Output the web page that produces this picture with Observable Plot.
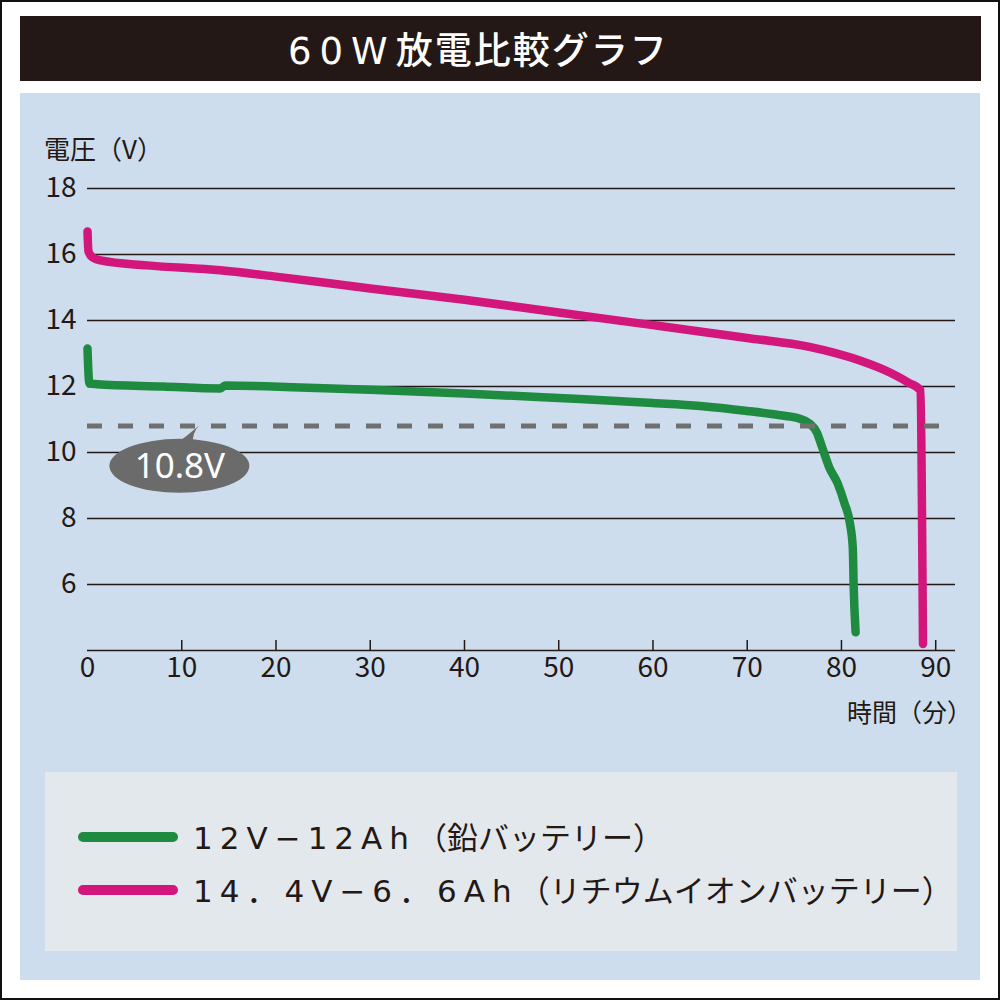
<!DOCTYPE html>
<html>
<head>
<meta charset="utf-8">
<script src="https://cdn.jsdelivr.net/npm/d3@7"></script>
<script src="https://cdn.jsdelivr.net/npm/@observablehq/plot@0.6"></script>
<style>
  html, body { margin: 0; padding: 0; background: #fff; }
  #root { position: relative; width: 1000px; height: 1000px; overflow: hidden; background: #fff;
          font-family: "Noto Sans CJK JP", "Noto Sans", sans-serif; color: #231815; }
  .abs { position: absolute; }
  #border { left: 0; top: 0; width: 1000px; height: 1000px; box-sizing: border-box; border: 2px solid #111; pointer-events: none; z-index: 10; }
  #titlebar { left: 20px; top: 16px; width: 961px; height: 65px; background: #231815; }
  #title { left: 288px; top: 16px; height: 65px; line-height: 65px; white-space: nowrap;
           color: #fff; font-size: 37px; letter-spacing: 2px; font-weight: 500; }
  #title .lat { letter-spacing: 8px; font-family: "DejaVu Sans", "Noto Sans", sans-serif; font-weight: 400; }
  #panel { left: 20px; top: 93px; width: 960px; height: 887px; background: #cddded; }
  #legendbox { left: 45px; top: 772px; width: 912px; height: 179px; background: #e3e8ed; }
  .swatch { left: 78px; width: 100px; height: 10px; border-radius: 5px; }
  .legtext { left: 193px; font-size: 31px; line-height: 32px; height: 32px; white-space: nowrap; color: #231815; }
  .legtext .lat { letter-spacing: 7px; font-family: "DejaVu Sans", "Noto Sans CJK JP", sans-serif; }
  #ylabel { left: 44px; top: 133px; font-size: 26px; line-height: 30px; white-space: nowrap; }
  #xlabel { right: 28px; top: 696px; font-size: 25px; line-height: 30px; white-space: nowrap; }
  #chart { left: 0; top: 0; }
</style>
</head>
<body>
<div id="root">
  <div id="panel" class="abs"></div>
  <div id="titlebar" class="abs"></div>
  <div id="title" class="abs"></div>
  <div id="legendbox" class="abs"></div>
  <div id="chart" class="abs"></div>
  <div id="ylabel" class="abs"></div>
  <div id="xlabel" class="abs"></div>
  <div id="legend"></div>
  <div id="border" class="abs"></div>
</div>
<script>
// ---- data ----
const titleLatin = "60W";
const titleRest = "放電比較グラフ";
const yAxisTitle = "電圧（V）";
const xAxisTitle = "時間（分）";

// 12V-12Ah lead battery: minutes / volts
const leadTime = [0, 0.2, 1, 8, 14.1, 14.6, 22.6, 30, 40, 50, 60, 65, 70, 73, 75.5, 76.6, 77.4, 77.9, 78.7, 79.6, 80.3, 80.9, 81.2, 81.3, 81.5];
const leadVolt = [13.15, 12.09, 12.07, 12.0, 11.94, 12.03, 11.97, 11.9, 11.79, 11.65, 11.5, 11.41, 11.26, 11.15, 11.03, 10.88, 10.6, 10.2, 9.55, 9.06, 8.48, 7.85, 7.12, 5.9, 4.55];

// 14.4V-6.6Ah lithium-ion battery: minutes / volts
const liTime = [0, 0.1, 0.5, 1.4, 6.3, 14.1, 20, 30, 40, 50, 60, 70, 76.6, 81.8, 85.3, 87.1, 88.4, 88.55, 88.65];
const liVolt = [16.7, 16.1, 15.92, 15.82, 15.67, 15.52, 15.33, 14.97, 14.63, 14.24, 13.86, 13.47, 13.2, 12.8, 12.4, 12.12, 11.88, 8.0, 4.2];

const seriesNames = ["12V−12Ah（鉛バッテリー）", "14.4V−6.6Ah（リチウムイオンバッテリー）"];
const seriesColors = ["#1f8b40", "#d3167b"];

const yTicks = [6, 8, 10, 12, 14, 16, 18];
const gridLevels = [4, 6, 8, 10, 12, 14, 16, 18];
const xTicks = [0, 10, 20, 30, 40, 50, 60, 70, 80, 90];
const xTickMarks = [10, 20, 30, 40, 50, 60, 70, 80, 90];
const cutoffVolt = [10.8];
const calloutX = [9.8];
const calloutY = [9.58];
const calloutTipX = [11.9];
const calloutText = ["10.8V"];

// ---- build ----
const titleEl = document.getElementById("title");
const tl = document.createElement("span"); tl.className = "lat"; tl.textContent = titleLatin;
const tr = document.createElement("span"); tr.textContent = titleRest;
titleEl.appendChild(tl); titleEl.appendChild(tr);
document.getElementById("ylabel").textContent = yAxisTitle;
document.getElementById("xlabel").textContent = xAxisTitle;

const lead = leadTime.map((t, i) => ({t, v: leadVolt[i]}));
const li = liTime.map((t, i) => ({t, v: liVolt[i]}));
const callout = calloutX.map((x, i) => ({x, y: calloutY[i], label: calloutText[i]}));

const plot = Plot.plot({
  width: 1000,
  height: 700,
  marginTop: 188,
  marginBottom: 50,
  marginLeft: 87,
  marginRight: 45,
  x: {domain: [0, 92.1]},
  y: {domain: [4, 18]},
  style: {background: "transparent", overflow: "visible", color: "#231815",
          fontFamily: "'Noto Sans CJK JP', 'Noto Sans', sans-serif"},
  marks: [
    Plot.ruleY(gridLevels, {stroke: "#231815", strokeWidth: 1.5}),
    Plot.axisY(yTicks, {tickSize: 0, tickPadding: 11, fontSize: 28, label: null}),
    Plot.axisX(xTicks, {tickSize: 0, tickPadding: 7, fontSize: 28, label: null}),
    Plot.axisX(xTickMarks, {tickSize: 10, dy: -10, tickFormat: () => "", label: null, stroke: "#231815", strokeWidth: 1.5}),
    Plot.line(lead, {x: "t", y: "v", curve: "monotone-x", stroke: seriesColors[0], strokeWidth: 8.5, strokeLinecap: "round", strokeLinejoin: "round"}),
    Plot.line(li, {x: "t", y: "v", curve: "monotone-x", stroke: seriesColors[1], strokeWidth: 8.5, strokeLinecap: "round", strokeLinejoin: "round"}),
    Plot.ruleY(cutoffVolt, {stroke: "#707070", strokeWidth: 5, strokeDasharray: "15 16"}),
    Plot.text(callout, {x: "x", y: "y", text: "label", fill: "#fff", fontSize: 35, fontFamily: "'Noto Sans', sans-serif"})
  ]
});
document.getElementById("chart").appendChild(plot);

// callout bubble positioned through the plot's scales
const xs = plot.scale("x"), ys = plot.scale("y");
const cx = xs.apply(calloutX[0]), cy = ys.apply(calloutY[0]);
const tx = xs.apply(calloutTipX[0]), ty = ys.apply(cutoffVolt[0]);
const g = d3.select(plot).insert("g", "g[aria-label=text]");
g.append("path")
  .attr("d", `M${cx - 6},${cy - 20} Q${cx + 8},${cy - 30} ${tx},${ty} Q${cx + 13},${cy - 34} ${cx + 13},${cy - 20} Z`)
  .attr("fill", "#6b6b6b");
g.append("ellipse").attr("cx", cx).attr("cy", cy).attr("rx", 70).attr("ry", 27).attr("fill", "#6b6b6b");

// legend
const legend = document.getElementById("legend");
const legendY = [837, 890];
seriesNames.forEach((name, i) => {
  const sw = document.createElement("div");
  sw.className = "abs swatch";
  sw.style.top = (legendY[i] - 5) + "px";
  sw.style.background = seriesColors[i];
  legend.appendChild(sw);
  const tx = document.createElement("div");
  tx.className = "abs legtext";
  tx.style.top = (legendY[i] - 17) + "px";
  const k = name.indexOf("（");
  const a = document.createElement("span");
  a.className = "lat";
  a.textContent = name.slice(0, k).replace(/\./g, "．");
  const b = document.createElement("span");
  b.textContent = name.slice(k);
  tx.appendChild(a); tx.appendChild(b);
  legend.appendChild(tx);
});
</script>
</body>
</html>
